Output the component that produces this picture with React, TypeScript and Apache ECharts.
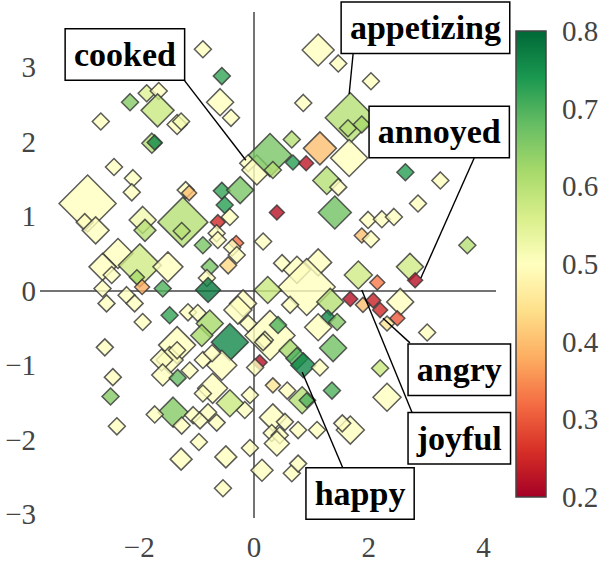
import { useEffect, useRef } from "react";
import * as echarts from "echarts";

// ---- data ----
const X_VALUES = [
  -0.89, -0.56, -2.16, -1.87, -1.66, -1.68, -1.34, -1.27, -0.59, -0.4, -2.67, -1.78, -1.73, -2.44, -2.11, -2.13,
  -2.9, -2.95, -2.76, -1.19, -1.13, -1.24, -1.26, -1.94, -1.9, -0.56, -0.24, -0.51, -0.42, -0.63, -0.65, -0.89,
  -0.63, -0.31, -0.38, -0.3, -0.77, -0.45, -2.37, -1.99, -1.5, -2.64, -2.04, -0.82, -0.1, 0.05,
  1.12, 1.47, 2.04, 0.86, 1.68, 1.64, 1.88, 0.66, 1.15, 1.66, 0.28, 0.68, 0.91, 0.33, 1.27, 1.47, 2.64, 3.25, 2.86,
  0.4, 1.41, 1.99, 2.23, 2.44, 1.88, 2.04, 0.16, 3.72, 0.49, 1.12, 0.75, 2.72, 1.82, 2.81, 2.15,
  0.92, 0.24, -0.19, 1.68, 1.9, 2.08, 2.2, 2.55, 2.5, 2.32, 3.02, 1.33, 0.63, 1.29, 1.45, 1.12, 0.28, 0.19, 0.42,
  0.63, 0.75, 0.86, 1.38, 1.15, 0.1, 0.02, 2.2, 1.36, 0.33, 0.58, 2.32, 0.84, 0.92, -0.07, -0.16, 0.33, 0.54, 0.77,
  1.1, 0.31, 0.45, 0.4, 1.68, 1.54, -0.07, 0.14, 0.66, 0.77,
  -2.48, -1.95, -2.64, -1.59, -0.8, -2.57, -2.22, -2.08, -1.94, -1.47, -1.15, -0.98, -0.77, -0.91, -0.42, -0.28,
  -0.1, -1.34, -1.47, -1.34, -1.61, -1.59, -1.33, -1.12, -0.89, -0.56, -0.73, 0.16, -2.6, -2.46, -2.5, -0.72,
  -0.89, -0.42, -1.41, -1.73, -1.26, -1.06, -0.94, -0.8, -0.65, -2.39, -0.96, -1.27, -0.49, -0.54,
];
const Y_VALUES = [
  3.24, 2.88, 2.53, 2.65, 2.68, 2.42, 2.23, 2.27, 2.53, 2.32, 2.27, 1.98, 1.99, 1.66, 1.51, 1.32,
  1.17, 0.92, 0.81, 1.35, 1.31, 0.92, 0.8, 0.95, 0.81, 1.34, 1.35, 1.15, 0.99, 0.92, 0.77, 0.61,
  0.68, 0.64, 0.58, 0.48, 0.32, 0.34, 0.5, 0.34, 0.32, 0.32, 0.18, 0.17, 1.71, 1.62,
  3.23, 3.05, 2.81, 2.52, 2.32, 2.18, 2.23, 2.03, 1.91, 1.78, 1.82, 1.72, 1.71, 1.62, 1.48, 1.39, 1.59, 1.48, 1.17,
  1.05, 1.05, 0.95, 0.96, 0.99, 0.74, 0.69, 0.66, 0.61, 0.37, 0.38, 0.28, 0.32, 0.21, 0.14, 0.11,
  0.05, 0.01, -0.17, -0.11, -0.19, -0.13, -0.26, -0.15, -0.37, -0.44, -0.56, -0.15, -0.19, -0.36, -0.42, -0.49, -0.6, -0.66, -0.46,
  -0.8, -0.91, -1.0, -0.77, -1.03, -0.96, -1.03, -1.04, -1.34, -1.27, -1.34, -1.43, -1.47, -1.47, -1.4, -1.6, -1.7, -1.76, -1.87,
  -1.87, -1.91, -1.94, -2.05, -1.87, -1.78, -2.11, -2.41, -2.45, -2.32,
  0.21, 0.05, 0.03, 0.03, 0.01, -0.17, -0.06, -0.17, -0.42, -0.33, -0.29, -0.3, -0.44, -0.6, -0.69, -0.26,
  -0.44, -0.73, -0.93, -0.8, -0.93, -1.13, -1.17, -1.07, -0.93, -1.0, -0.84, -0.69, -0.76, -1.16, -1.42, -1.31,
  -1.38, -1.51, -1.63, -1.66, -1.81, -1.67, -1.74, -1.63, -1.77, -1.82, -2.03, -2.26, -2.23, -2.65,
];
const COLOR_VALUES = [
  0.5, 0.72, 0.65, 0.55, 0.5, 0.58, 0.5, 0.52, 0.5, 0.5, 0.5, 0.6, 0.76, 0.5, 0.5, 0.5,
  0.5, 0.5, 0.5, 0.5, 0.4, 0.6, 0.6, 0.52, 0.6, 0.72, 0.66, 0.73, 0.5, 0.25, 0.5, 0.66,
  0.5, 0.32, 0.5, 0.5, 0.66, 0.43, 0.5, 0.57, 0.5, 0.5, 0.62, 0.5, 0.5, 0.5,
  0.5, 0.5, 0.5, 0.5, 0.6, 0.6, 0.62, 0.6, 0.4, 0.5, 0.66, 0.73, 0.23, 0.6, 0.6, 0.5, 0.73, 0.5, 0.5,
  0.22, 0.67, 0.5, 0.5, 0.5, 0.4, 0.5, 0.5, 0.6, 0.5, 0.5, 0.5, 0.57, 0.57, 0.22, 0.33,
  0.5, 0.58, 0.5, 0.22, 0.4, 0.24, 0.25, 0.5, 0.3, 0.45, 0.5, 0.6, 0.5, 0.76, 0.65, 0.5, 0.5, 0.5, 0.7,
  0.62, 0.7, 0.76, 0.67, 0.5, 0.22, 0.5, 0.58, 0.7, 0.45, 0.5, 0.5, 0.6, 0.7, 0.5, 0.5, 0.5, 0.5, 0.5,
  0.5, 0.5, 0.5, 0.5, 0.5, 0.5, 0.5, 0.5, 0.5, 0.5,
  0.5, 0.38, 0.5, 0.7, 0.78, 0.5, 0.5, 0.5, 0.5, 0.72, 0.5, 0.5, 0.62, 0.62, 0.76, 0.5,
  0.5, 0.5, 0.5, 0.5, 0.5, 0.5, 0.68, 0.5, 0.5, 0.5, 0.5, 0.5, 0.5, 0.5, 0.65, 0.5,
  0.5, 0.58, 0.65, 0.5, 0.5, 0.5, 0.5, 0.5, 0.5, 0.5, 0.5, 0.5, 0.5, 0.5,
];
const SIZE_VALUES = [
  17, 17, 17, 17, 17, 33, 20, 17, 27, 17, 17, 20, 15, 17, 17, 17,
  57, 17, 27, 17, 15, 50, 17, 27, 22, 17, 27, 17, 17, 15, 17, 17,
  17, 15, 17, 17, 17, 17, 30, 43, 30, 27, 15, 17, 17, 30,
  32, 17, 17, 17, 50, 17, 17, 17, 33, 37, 43, 15, 15, 17, 28, 17, 17, 17, 17,
  15, 33, 17, 17, 17, 15, 17, 17, 17, 17, 27, 27, 27, 28, 15, 15,
  57, 27, 27, 15, 15, 15, 15, 27, 15, 15, 17, 27, 17, 15, 17, 27, 50, 17, 17,
  22, 22, 25, 27, 17, 15, 17, 17, 17, 15, 17, 28, 27, 15, 17, 17, 27, 17, 17,
  17, 17, 17, 25, 28, 17, 17, 22, 17, 17,
  17, 15, 17, 17, 25, 17, 17, 17, 17, 17, 17, 17, 27, 22, 37, 28,
  17, 37, 27, 17, 22, 22, 17, 17, 17, 30, 17, 17, 17, 17, 17, 30,
  17, 27, 30, 17, 17, 17, 17, 17, 17, 17, 17, 22, 22, 17,
];

const X_RANGE = [-3.73, 4.22];
const Y_RANGE = [-3.05, 3.74];
const X_TICKS = [-2, 0, 2, 4];
const Y_TICKS = [-3, -2, -1, 0, 1, 2, 3];
const CBAR_MIN = 0.2;
const CBAR_MAX = 0.8;
const CBAR_STEP = 0.1;

const ANNOT_LABELS = ["cooked", "appetizing", "annoyed", "angry", "joyful", "happy"];
const ANNOT_BOX_X = [-2.25, 2.99, 3.23, 3.58, 3.58, 1.85];
const ANNOT_BOX_Y = [3.17, 3.53, 2.13, -1.06, -1.98, -2.72];
const ANNOT_FROM_X = [-1.22, 1.73, 3.84, 2.72, 2.76, 1.55];
const ANNOT_FROM_Y = [2.83, 3.19, 1.78, -0.7, -1.64, -2.38];
const ANNOT_TO_X = [-0.14, 1.66, 2.91, 2.25, 1.88, 0.84];
const ANNOT_TO_Y = [1.75, 2.64, 0.17, -0.37, 0.01, -1.09];

const RDYLGN = [
  "#a50026", "#d73027", "#f46d43", "#fdae61", "#fee08b", "#ffffbf",
  "#d9ef8b", "#a6d96a", "#66bd63", "#1a9850", "#006837",
];

const FONT = "'Liberation Serif', 'Times New Roman', serif";
const fmtTick = (v: number) => (v < 0 ? "\u2212" + Math.abs(v) : String(v));

export default function App() {
  const ref = useRef<HTMLDivElement>(null);

  useEffect(() => {
    if (!ref.current) return;
    const chart = echarts.init(ref.current, null, { renderer: "svg" });

    const n = Math.min(X_VALUES.length, Y_VALUES.length, COLOR_VALUES.length, SIZE_VALUES.length);
    const points: number[][] = [];
    for (let i = 0; i < n; i++) points.push([X_VALUES[i], Y_VALUES[i], COLOR_VALUES[i], SIZE_VALUES[i]]);

    const annotLines = ANNOT_LABELS.map((_, i) => ({
      coords: [
        [ANNOT_FROM_X[i], ANNOT_FROM_Y[i]],
        [ANNOT_TO_X[i], ANNOT_TO_Y[i]],
      ],
    }));
    const annotBoxes = ANNOT_LABELS.map((name, i) => ({ name, value: [ANNOT_BOX_X[i], ANNOT_BOX_Y[i]] }));

    const gradient = new echarts.graphic.LinearGradient(
      0, 1, 0, 0,
      RDYLGN.map((c, i) => ({ offset: i / (RDYLGN.length - 1), color: c }))
    );

    const tickLabel = { fontFamily: FONT, fontSize: 29, color: "#444" };

    chart.setOption({
      animation: false,
      backgroundColor: "#ffffff",
      grid: [
        { left: 40, top: 12, width: 456, height: 506 },
        {
          left: 516, top: 31, width: 30, height: 466, show: true,
          backgroundColor: gradient, borderColor: "#444", borderWidth: 1.5,
        },
      ],
      xAxis: [
        {
          type: "value", gridIndex: 0, min: X_RANGE[0], max: X_RANGE[1],
          axisLine: { show: false }, axisTick: { show: false }, splitLine: { show: false },
          axisLabel: { ...tickLabel, customValues: X_TICKS, formatter: fmtTick, margin: 14 },
        },
        { type: "value", gridIndex: 1, show: false, min: 0, max: 1 },
      ],
      yAxis: [
        {
          type: "value", gridIndex: 0, min: Y_RANGE[0], max: Y_RANGE[1],
          axisLine: { show: false }, axisTick: { show: false }, splitLine: { show: false },
          axisLabel: { ...tickLabel, customValues: Y_TICKS, formatter: fmtTick, margin: 4 },
        },
        {
          type: "value", gridIndex: 1, position: "right", min: CBAR_MIN, max: CBAR_MAX, interval: CBAR_STEP,
          axisLine: { show: false }, axisTick: { show: false }, splitLine: { show: false },
          axisLabel: { ...tickLabel, margin: 16, formatter: (v: number) => v.toFixed(1) },
        },
      ],
      visualMap: {
        type: "continuous", show: false, min: CBAR_MIN, max: CBAR_MAX, dimension: 2, seriesIndex: 1,
        inRange: { color: RDYLGN },
      },
      series: [
        {
          type: "lines", coordinateSystem: "cartesian2d", xAxisIndex: 0, yAxisIndex: 0, z: 1, silent: true,
          lineStyle: { color: "#444", width: 1.5, opacity: 1 },
          data: [
            { coords: [[X_RANGE[0], 0], [X_RANGE[1], 0]] },
            { coords: [[0, Y_RANGE[0]], [0, Y_RANGE[1]]] },
          ],
        },
        {
          type: "scatter", xAxisIndex: 0, yAxisIndex: 0, z: 2,
          symbol: "diamond",
          symbolSize: (v: number[]) => v[3],
          itemStyle: { opacity: 0.8, borderColor: "#333", borderWidth: 1.5 },
          data: points,
        },
        {
          type: "lines", coordinateSystem: "cartesian2d", xAxisIndex: 0, yAxisIndex: 0, z: 3, silent: true,
          lineStyle: { color: "#000", width: 1.4, opacity: 1 },
          data: annotLines,
        },
        {
          type: "scatter", xAxisIndex: 0, yAxisIndex: 0, z: 4, symbolSize: 0, silent: true, clip: false,
          itemStyle: { color: "#000", opacity: 1 },
          label: {
            show: true, position: "inside", formatter: (p: any) => p.name, opacity: 1,
            fontFamily: FONT, fontSize: 34, fontWeight: "bold", color: "#000", lineHeight: 36,
            textBorderWidth: 0, textBorderColor: "transparent",
            backgroundColor: "#fff", borderColor: "#000", borderWidth: 1.5, padding: [7, 8, 7, 8],
          },
          data: annotBoxes,
        },
      ],
    });

    return () => chart.dispose();
  }, []);

  return <div ref={ref} style={{ position: "absolute", left: 0, top: 0, width: 608, height: 563 }} />;
}
